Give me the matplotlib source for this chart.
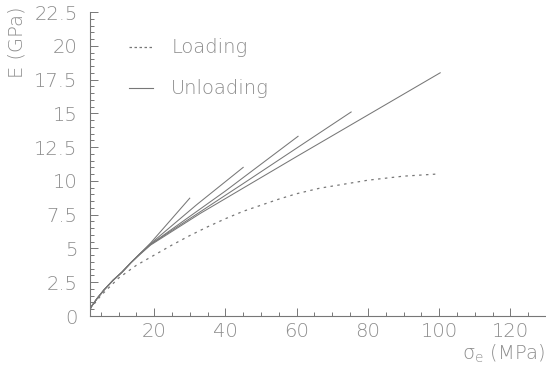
import matplotlib
matplotlib.use("Agg")
import matplotlib.pyplot as plt
from matplotlib.ticker import MultipleLocator

# Loading curve (dotted)
load_x = [2, 5, 10, 15, 20, 25, 30, 35, 40, 45, 50, 55, 60, 66.5, 72, 80, 90, 99]
load_y = [0.5, 1.5, 2.8, 3.75, 4.5, 5.25, 5.95, 6.6, 7.2, 7.75, 8.2, 8.65, 9.05, 9.46, 9.7, 10.05, 10.35, 10.5]

# Unloading curves (solid)
unl_x = [
    [2, 4, 6, 8.5, 11, 13.5, 16, 19, 30],
    [2, 4, 6, 8.5, 11, 13.5, 16, 19, 32, 45],
    [2, 4, 6, 8.5, 11, 13.5, 16, 19, 40, 60.4],
    [2, 4, 6, 8.5, 11, 13.5, 16, 19, 45, 75.3],
    [2, 4, 6, 8.5, 11, 13.5, 16, 19, 33, 60, 100.3],
]
unl_y = [
    [0.55, 1.3, 1.95, 2.65, 3.25, 3.95, 4.6, 5.4, 8.72],
    [0.55, 1.3, 1.95, 2.65, 3.25, 3.95, 4.6, 5.35, 8.25, 11.0],
    [0.55, 1.3, 1.95, 2.65, 3.25, 3.95, 4.6, 5.3, 9.25, 13.3],
    [0.55, 1.3, 1.95, 2.65, 3.25, 3.95, 4.6, 5.3, 9.8, 15.1],
    [0.55, 1.3, 1.95, 2.65, 3.25, 3.95, 4.55, 5.25, 7.6, 11.8, 18.0],
]

legend_labels = ["Loading", "Unloading"]
x_label = r"$\mathregular{\sigma_e}$ (MPa)"
y_label = "E (GPa)"

plt.rcParams['font.family'] = ['DejaVu Sans']
plt.rcParams['mathtext.fontset'] = 'dejavusans'
TXT = '#8c8c8c'
LINE = '#777777'
FW = 'light'
FS = 14

fig = plt.figure(figsize=(5.46, 3.70), dpi=100)
ax = fig.add_axes([90/546, 1-316/370, 456/546, 304/370])

ax.plot(load_x, load_y, color=LINE, lw=0.9, linestyle=(0, (2, 3.5)))
for xs, ys in zip(unl_x, unl_y):
    ax.plot(xs, ys, color=LINE, lw=0.75)

ax.set_xlim(2, 130)
ax.set_ylim(0, 22.5)

for s in ['top', 'right']:
    ax.spines[s].set_visible(False)
for s in ['left', 'bottom']:
    ax.spines[s].set_color('#777777')
    ax.spines[s].set_linewidth(0.8)

ax.xaxis.set_major_locator(MultipleLocator(20))
ax.xaxis.set_minor_locator(MultipleLocator(5))
ax.yaxis.set_major_locator(MultipleLocator(2.5))
ax.yaxis.set_minor_locator(MultipleLocator(0.5))
ax.tick_params(which='both', direction='in', color='#777777', width=0.7)
ax.tick_params(which='major', length=6, labelsize=FS, labelcolor=TXT)
ax.tick_params(which='minor', length=3)
ax.tick_params(axis='y', which='major', pad=9)
ax.tick_params(axis='x', which='major', pad=4)
ax.set_yticks([0, 2.5, 5, 7.5, 10, 12.5, 15, 17.5, 20, 22.5])
ax.set_yticklabels(['0', '2.5', '5', '7.5', '10', '12.5', '15', '17.5', '20', '22.5'], fontweight=FW)
ax.set_xticks([20, 40, 60, 80, 100, 120])
ax.set_xticklabels(['20', '40', '60', '80', '100', '120'], fontweight=FW)

fig.text(545/546, 1-354/370, x_label, ha='right', va='center', fontsize=FS, color=TXT, fontweight=FW)
fig.text(17/546, 1-42/370, y_label, ha='center', va='center', rotation=90, fontsize=FS, color=TXT, fontweight=FW)

# legend drawn manually in axes fraction coords
ax.plot([0.085, 0.138], [0.884, 0.884], transform=ax.transAxes, color=LINE, lw=0.9, linestyle=(0, (2, 2)))
ax.plot([0.085, 0.138], [0.75, 0.75], transform=ax.transAxes, color=LINE, lw=0.8)
ax.text(0.178, 0.884, legend_labels[0], transform=ax.transAxes, va='center', ha='left', fontsize=FS, color=TXT, fontweight=FW)
ax.text(0.178, 0.75, legend_labels[1], transform=ax.transAxes, va='center', ha='left', fontsize=FS, color=TXT, fontweight=FW)

fig.savefig('out.png', dpi=100)
